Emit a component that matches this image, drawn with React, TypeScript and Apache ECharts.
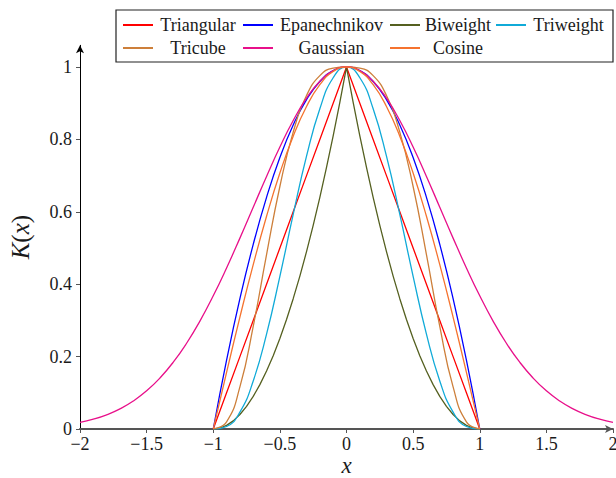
import React, { useEffect, useRef } from "react";
import * as echarts from "echarts";

// x sample points
const xCompact = [-1, -0.9, -0.8, -0.7, -0.6, -0.5, -0.4, -0.3, -0.2, -0.1, 0, 0.1, 0.2, 0.3, 0.4, 0.5, 0.6, 0.7, 0.8, 0.9, 1];
const xBiweight = [-1, -0.95, -0.9, -0.85, -0.8, -0.75, -0.7, -0.65, -0.6, -0.55, -0.5, -0.45, -0.4, -0.35, -0.3, -0.25, -0.2, -0.15, -0.1, -0.05, 0,
  0.05, 0.1, 0.15, 0.2, 0.25, 0.3, 0.35, 0.4, 0.45, 0.5, 0.55, 0.6, 0.65, 0.7, 0.75, 0.8, 0.85, 0.9, 0.95, 1];
const xGauss = [-2, -1.9, -1.8, -1.7, -1.6, -1.5, -1.4, -1.3, -1.2, -1.1, -1, -0.9, -0.8, -0.7, -0.6, -0.5, -0.4, -0.3, -0.2, -0.1, 0,
  0.1, 0.2, 0.3, 0.4, 0.5, 0.6, 0.7, 0.8, 0.9, 1, 1.1, 1.2, 1.3, 1.4, 1.5, 1.6, 1.7, 1.8, 1.9, 2];

// series values
const triangular = [0, 0.1, 0.2, 0.3, 0.4, 0.5, 0.6, 0.7, 0.8, 0.9, 1, 0.9, 0.8, 0.7, 0.6, 0.5, 0.4, 0.3, 0.2, 0.1, 0];
const epanechnikov = [0, 0.19, 0.36, 0.51, 0.64, 0.75, 0.84, 0.91, 0.96, 0.99, 1, 0.99, 0.96, 0.91, 0.84, 0.75, 0.64, 0.51, 0.36, 0.19, 0];
const biweight = [0, 0.0025, 0.01, 0.0225, 0.04, 0.0625, 0.09, 0.1225, 0.16, 0.2025, 0.25, 0.3025, 0.36, 0.4225, 0.49, 0.5625, 0.64, 0.7225, 0.81, 0.9025, 1,
  0.9025, 0.81, 0.7225, 0.64, 0.5625, 0.49, 0.4225, 0.36, 0.3025, 0.25, 0.2025, 0.16, 0.1225, 0.09, 0.0625, 0.04, 0.0225, 0.01, 0.0025, 0];
const triweight = [0, 0.0069, 0.0467, 0.1327, 0.2621, 0.4219, 0.5927, 0.7536, 0.8847, 0.9703, 1, 0.9703, 0.8847, 0.7536, 0.5927, 0.4219, 0.2621, 0.1327, 0.0467, 0.0069, 0];
const tricube = [0, 0.0199, 0.1162, 0.2836, 0.4819, 0.6699, 0.82, 0.9212, 0.9762, 0.997, 1, 0.997, 0.9762, 0.9212, 0.82, 0.6699, 0.4819, 0.2836, 0.1162, 0.0199, 0];
const gaussian = [0.0183, 0.0271, 0.0392, 0.0556, 0.0773, 0.1054, 0.1409, 0.1845, 0.2369, 0.2982, 0.3679, 0.4449, 0.5273, 0.6126, 0.6977, 0.7788, 0.8521, 0.9139, 0.9608, 0.99, 1,
  0.99, 0.9608, 0.9139, 0.8521, 0.7788, 0.6977, 0.6126, 0.5273, 0.4449, 0.3679, 0.2982, 0.2369, 0.1845, 0.1409, 0.1054, 0.0773, 0.0556, 0.0392, 0.0271, 0.0183];
const cosine = [0, 0.1564, 0.309, 0.454, 0.5878, 0.7071, 0.809, 0.891, 0.9511, 0.9877, 1, 0.9877, 0.9511, 0.891, 0.809, 0.7071, 0.5878, 0.454, 0.309, 0.1564, 0];

const yTicks = [0, 0.2, 0.4, 0.6, 0.8, 1];

const FONT = "'Times New Roman', 'Liberation Serif', 'DejaVu Serif', serif";

const legendWidths: Record<string, number> = {
  Triangular: 80, Epanechnikov: 107, Biweight: 66, Triweight: 75,
  Tricube: 80, Gaussian: 107, Cosine: 66,
};
const legendKeys: Record<string, string> = {
  Triangular: "a", Epanechnikov: "b", Biweight: "c", Triweight: "d",
  Tricube: "a", Gaussian: "b", Cosine: "c",
};

function pairs(xs: number[], ys: number[]) {
  return xs.map((x, i) => [x, ys[i]]);
}

export default function App() {
  const ref = useRef<HTMLDivElement>(null);
  useEffect(() => {
    if (!ref.current) return;
    const chart = echarts.init(ref.current, null, { renderer: "svg" });
    const mk = (name: string, xs: number[], ys: number[], color: string, smooth: boolean) => ({
      name,
      type: "line",
      data: pairs(xs, ys),
      symbol: "none",
      showSymbol: false,
      smooth,
      lineStyle: { color, width: 1.3 },
      itemStyle: { color },
    });
    const tok = (w: number) => ({ width: w, align: "center", fontSize: 18, fontFamily: FONT, lineHeight: 17, color: "#1a1a1a" });
    const rich: any = {
      a: tok(legendWidths.Triangular),
      b: tok(legendWidths.Epanechnikov),
      c: tok(legendWidths.Biweight),
      d: tok(legendWidths.Triweight),
    };
    chart.setOption({
      animation: false,
      grid: { left: 80, right: 3, top: 45.3, bottom: 49, containLabel: false, outerBoundsMode: "none" },
      legend: {
        left: 116,
        top: 10,
        width: 500,
        padding: [6, 7, 5, 7],
        itemGap: 5,
        itemWidth: 30,
        itemHeight: 2,
        icon: "rect",
        borderColor: "#222",
        borderWidth: 1.2,
        backgroundColor: "#fff",
        formatter: (name: string) => `{${legendKeys[name]}|${name}}`,
        textStyle: { fontFamily: FONT, fontSize: 18, color: "#1a1a1a", rich },
        data: ["Triangular", "Epanechnikov", "Biweight", "Triweight", "Tricube", "Gaussian", "Cosine"],
      },
      xAxis: {
        type: "value",
        min: -2,
        max: 2,
        interval: 0.5,
        name: "x",
        nameLocation: "middle",
        nameGap: 27,
        nameMoveOverlap: false,
        nameTextStyle: { fontFamily: FONT, fontSize: 23, lineHeight: 18, fontStyle: "italic", color: "#1a1a1a" },
        axisLine: { show: true, onZero: false, lineStyle: { color: "#555", width: 2 }, symbol: ["none", "arrow"], symbolSize: [6, 8] },
        axisTick: { show: true, length: 4, lineStyle: { color: "#555" } },
        axisLabel: {
          margin: 6,
          fontFamily: FONT,
          fontSize: 18,
          color: "#1a1a1a",
          formatter: (v: number) => String(v).replace("-", "\u2212"),
        },
        splitLine: { show: false },
      },
      yAxis: {
        type: "value",
        min: 0,
        max: 1.06,
        name: "{i|K}{n|(}{i|x}{n|)}",
        nameLocation: "middle",
        nameGap: 47,
        nameMoveOverlap: false,
        nameTextStyle: {
          fontFamily: FONT,
          fontSize: 25,
          color: "#1a1a1a",
          rich: {
            i: { fontFamily: FONT, fontSize: 25, fontStyle: "italic", color: "#1a1a1a" },
            n: { fontFamily: FONT, fontSize: 25, color: "#1a1a1a" },
          },
        },
        axisLine: { show: true, onZero: false, lineStyle: { color: "#000", width: 1 }, symbol: ["none", "arrow"], symbolSize: [6, 8] },
        axisTick: { show: true, length: 4, lineStyle: { color: "#555" }, customValues: yTicks },
        axisLabel: {
          margin: 8,
          fontFamily: FONT,
          fontSize: 18,
          color: "#1a1a1a",
          customValues: yTicks,
          formatter: (v: number) => String(Math.round(v * 10) / 10),
        },
        splitLine: { show: false },
      },
      series: [
        mk("Triangular", xCompact, triangular, "#ff0000", false),
        mk("Epanechnikov", xCompact, epanechnikov, "#0000ff", true),
        mk("Biweight", xBiweight, biweight, "#556020", false),
        mk("Triweight", xCompact, triweight, "#10aad8", true),
        mk("Tricube", xCompact, tricube, "#cd7f3a", true),
        mk("Gaussian", xGauss, gaussian, "#e8108a", true),
        mk("Cosine", xCompact, cosine, "#f5732f", true),
      ],
    });
    return () => chart.dispose();
  }, []);
  return (
    <div
      ref={ref}
      style={{ position: "fixed", left: 0, top: 0, width: 616, height: 478, background: "#fff" }}
    />
  );
}
